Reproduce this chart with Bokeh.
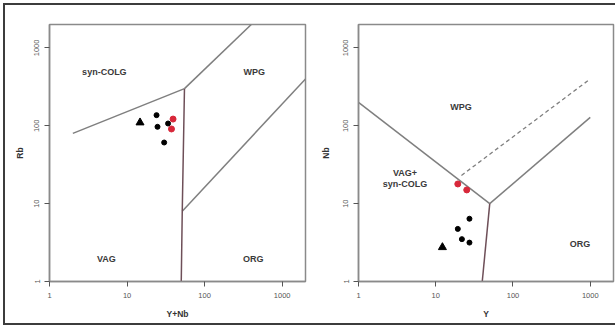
from bokeh.plotting import figure
from bokeh.layouts import row
from bokeh.models import Range1d, FixedTicker, CustomJSTickFormatter
from bokeh.core.properties import value
from bokeh.embed import file_html
from bokeh.resources import INLINE

TICKS = [1, 10, 100, 1000]

# ---- Panel 1: Rb vs Y+Nb ----
p1_black_x = [24.0, 24.7, 33.8, 30.1]
p1_black_y = [137, 97, 107, 61]
p1_tri_x = [14.7]
p1_tri_y = [110]
p1_red_x = [39.2, 37.4]
p1_red_y = [122, 91]

p1_gray_lines = [
    ([2, 55], [80, 300]),
    ([55, 400], [300, 2000]),
    ([51.5, 2000], [8, 400]),
]
p1_dark_lines = [
    ([55, 51.5, 50], [300, 8, 1]),
]
p1_labels = ["syn-COLG", "WPG", "VAG", "ORG"]
p1_label_x = [5.1, 437, 5.4, 425]
p1_label_y = [492, 492, 1.97, 1.97]

# ---- Panel 2: Nb vs Y ----
p2_black_x = [19.3, 27.3, 21.8, 27.3]
p2_black_y = [4.74, 6.4, 3.5, 3.16]
p2_tri_x = [12.2]
p2_tri_y = [2.75]
p2_red_x = [19.3, 25.2]
p2_red_y = [17.9, 15.0]

p2_gray_lines = [
    ([1, 50], [200, 10]),
    ([50, 1000], [10, 128]),
]
p2_dark_lines = [
    ([50, 40], [10, 1]),
]
p2_dashed_lines = [
    ([21.5, 1000], [23, 400]),
]
p2_labels = ["WPG", "VAG+", "syn-COLG", "ORG"]
p2_label_x = [21.3, 4.0, 4.0, 738]
p2_label_y = [175, 24.5, 17.8, 3.04]

FONT = "Liberation Sans"


def make_fig(width, mbl, mbr, xlabel, ylabel, ylab_standoff):
    p = figure(width=width, height=327, x_axis_type="log", y_axis_type="log",
               x_range=Range1d(1, 2000), y_range=Range1d(1, 2000),
               output_backend="svg", toolbar_location=None,
               min_border_left=mbl, min_border_right=mbr,
               min_border_top=24, min_border_bottom=46)
    p.xgrid.visible = False
    p.ygrid.visible = False
    p.outline_line_color = "#8a8a8a"
    p.outline_line_width = 1.5
    p.background_fill_color = "white"
    p.border_fill_alpha = 0
    fmt = CustomJSTickFormatter(code="return tick.toFixed(0);")
    for ax in (p.xaxis[0], p.yaxis[0]):
        ax.ticker = FixedTicker(ticks=TICKS)
        ax.formatter = fmt
        ax.minor_tick_line_color = None
        ax.major_tick_out = 5
        ax.major_tick_in = 0
        ax.major_tick_line_color = "#555555"
        ax.axis_line_color = "#8a8a8a"
        ax.axis_line_width = 1.5
        ax.major_label_text_font = FONT
        ax.major_label_text_font_size = "7.5px"
        ax.major_label_text_color = "#555555"
        ax.axis_label_text_font = FONT
        ax.axis_label_text_font_style = "bold"
        ax.axis_label_text_font_size = "8.5px"
        ax.axis_label_text_color = "#333333"
    p.xaxis.axis_label = xlabel
    p.yaxis.axis_label = ylabel
    p.yaxis.major_label_orientation = "vertical"
    p.xaxis.major_label_standoff = 6
    p.yaxis.major_label_standoff = 5
    p.xaxis.axis_label_standoff = 8
    p.yaxis.axis_label_standoff = ylab_standoff
    return p


def draw(p, gray, dark, dashed, bx, by, tx, ty, rx, ry, labels, lx, ly):
    for xs, ys in gray:
        p.line(xs, ys, line_color="#7f7f7f", line_width=1.5)
    for xs, ys in dark:
        p.line(xs, ys, line_color="#6e4f58", line_width=1.5)
    for xs, ys in dashed:
        p.line(xs, ys, line_color="#7f7f7f", line_width=1.3, line_dash="4 3")
    p.scatter(bx, by, marker="circle", size=5, fill_color="black", line_color="black")
    p.scatter(tx, ty, marker="triangle", size=8, fill_color="black", line_color="black")
    p.scatter(rx, ry, marker="circle", size=6, fill_color="#d8283a", line_color="#d8283a")
    p.text(lx, ly, text=labels, text_align="center", text_baseline="middle",
           text_font=value(FONT), text_font_style="bold", text_font_size="9px",
           text_color="#3a3a3a")


p1 = make_fig(310, 49, 5, "Y+Nb", "Rb", 7)
draw(p1, p1_gray_lines, p1_dark_lines, [], p1_black_x, p1_black_y, p1_tri_x, p1_tri_y,
     p1_red_x, p1_red_y, p1_labels, p1_label_x, p1_label_y)

p2 = make_fig(305, 48, 2, "Y", "Nb", 10)
draw(p2, p2_gray_lines, p2_dark_lines, p2_dashed_lines, p2_black_x, p2_black_y,
     p2_tri_x, p2_tri_y, p2_red_x, p2_red_y, p2_labels, p2_label_x, p2_label_y)

G = "linear-gradient(#3c3c3c,#3c3c3c)"
bg = (G + " 3px 3px/2px 322px no-repeat, "
      + G + " 3px 3px/615px 2px no-repeat, "
      + G + " 3px 323px/615px 2px no-repeat, #ffffff")

layout = row(p1, p2, styles={"background": bg})

open("out.html", "w").write(file_html(layout, INLINE))
